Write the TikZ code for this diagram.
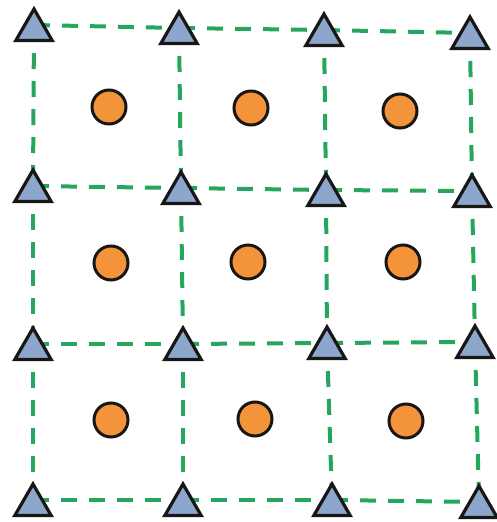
\documentclass[tikz,border=0pt]{standalone}
\usetikzlibrary{shapes.geometric}
\definecolor{gridgreen}{RGB}{38,165,92}
\definecolor{triblue}{RGB}{140,166,204}
\definecolor{dotorange}{RGB}{244,148,58}
\definecolor{edgeblack}{RGB}{25,22,22}
\tikzset{
  gridline/.style={draw=gridgreen, line width=4pt, dash pattern=on 16pt off 12pt},
  tri/.style={regular polygon, regular polygon sides=3, minimum size=42pt, inner sep=0pt,
    fill=triblue, draw=edgeblack, line width=3.2pt, line join=miter, yshift=-5pt},
  dot/.style={circle, minimum size=34pt, inner sep=0pt, fill=dotorange, draw=edgeblack, line width=3pt}
}
\begin{document}
\begin{tikzpicture}[x=1pt,y=-1pt]
\useasboundingbox (0,0) rectangle (496,522);
% grid points
\coordinate (p11) at (34,25);  \coordinate (p12) at (179,28);  \coordinate (p13) at (324,30);  \coordinate (p14) at (470,33);
\coordinate (p21) at (33,186); \coordinate (p22) at (181,188); \coordinate (p23) at (326,190); \coordinate (p24) at (472,191);
\coordinate (p31) at (33,344); \coordinate (p32) at (183,344); \coordinate (p33) at (327,343); \coordinate (p34) at (475,342);
\coordinate (p41) at (33,500); \coordinate (p42) at (183,500); \coordinate (p43) at (332,500); \coordinate (p44) at (479,502);
% horizontal dashed lines
\foreach \r in {1,2,3,4}{
  \draw[gridline] (p\r1) -- (p\r2);
  \draw[gridline] (p\r2) -- (p\r3);
  \draw[gridline] (p\r3) -- (p\r4);
}
% vertical dashed lines
\foreach \c in {1,2,3,4}{
  \draw[gridline] (p1\c) -- (p2\c);
  \draw[gridline] (p2\c) -- (p3\c);
  \draw[gridline] (p3\c) -- (p4\c);
}
% triangles
\foreach \r in {1,2,3,4}{
  \foreach \c in {1,2,3,4}{
    \node[tri] (t\r\c) at (p\r\c) {};
  }
}
% circles
\node[dot] (c11) at (109,107) {};
\node[dot] (c12) at (251,108) {};
\node[dot] (c13) at (400,111) {};
\node[dot] (c21) at (111,263) {};
\node[dot] (c22) at (248,262) {};
\node[dot] (c23) at (403,262) {};
\node[dot] (c31) at (111,420) {};
\node[dot] (c32) at (255,419) {};
\node[dot] (c33) at (406,421) {};
\end{tikzpicture}
\end{document}
